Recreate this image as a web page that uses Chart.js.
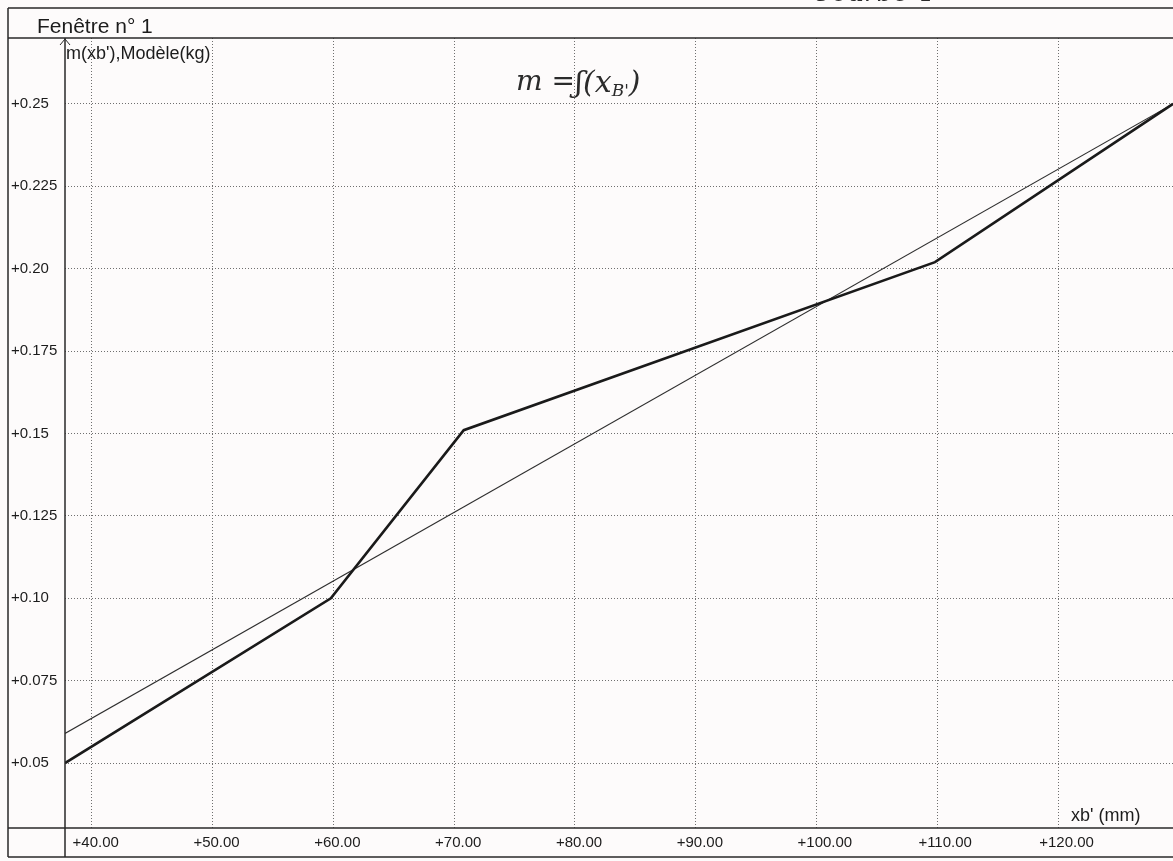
<!DOCTYPE html>
<html lang="fr">
<head>
<meta charset="utf-8">
<title>Fenêtre n° 1</title>
<script src="https://cdn.jsdelivr.net/npm/chart.js@4.4.1/dist/chart.umd.min.js"></script>
<style>
  html, body { margin: 0; padding: 0; background: #fdfbfb; overflow: hidden; }
  canvas { display: block; }
</style>
</head>
<body>
<canvas id="graphe" width="1173" height="861"></canvas>
<script>
// mesures m = f(xb') et modèle linéaire
const xbMesures = [37.8, 59.8, 70.8, 109.8, 129.5];
const mMesures = [0.050, 0.100, 0.151, 0.202, 0.250];
const xbModele = [37.8, 129.5];
const mModele = [0.059, 0.250];

const xTicks = [40, 50, 60, 70, 80, 90, 100, 110, 120];
const xTickLabels = ['+40.00', '+50.00', '+60.00', '+70.00', '+80.00', '+90.00', '+100.00', '+110.00', '+120.00'];
const yTicks = [0.05, 0.075, 0.10, 0.125, 0.15, 0.175, 0.20, 0.225, 0.25];
const yTickLabels = ['+0.05', '+0.075', '+0.10', '+0.125', '+0.15', '+0.175', '+0.20', '+0.225', '+0.25'];

const FONT = "'Liberation Sans', Arial, sans-serif";
const INK = '#1c1c1c';

function points(xs, ys) {
    return xs.map((x, i) => ({ x: x, y: ys[i] }));
}

// cadre de la fenêtre, axes, titres et annotation manuscrite
const cadre = {
    id: 'cadre',
    afterDraw(chart) {
        const ctx = chart.ctx;
        const area = chart.chartArea;
        const W = chart.width;
        const left = 8, top = 8, bottom = 857;
        ctx.save();
        ctx.strokeStyle = '#2a2a2a';
        ctx.lineWidth = 1.5;
        ctx.beginPath();
        ctx.moveTo(left, top); ctx.lineTo(W, top);
        ctx.moveTo(left, area.top); ctx.lineTo(W, area.top);
        ctx.moveTo(left, area.bottom); ctx.lineTo(W, area.bottom);
        ctx.moveTo(left, bottom); ctx.lineTo(W, bottom);
        ctx.moveTo(left, top); ctx.lineTo(left, bottom);
        ctx.moveTo(area.left, area.top); ctx.lineTo(area.left, bottom);
        ctx.stroke();

        // flèche de l'axe vertical
        ctx.lineWidth = 1;
        ctx.beginPath();
        ctx.moveTo(area.left - 5, area.top + 7);
        ctx.lineTo(area.left, area.top + 1);
        ctx.lineTo(area.left + 5, area.top + 7);
        ctx.stroke();

        ctx.fillStyle = INK;
        ctx.textBaseline = 'alphabetic';
        ctx.textAlign = 'left';
        ctx.font = '21px ' + FONT;
        ctx.fillText('Fenêtre n° 1', 37, 33);
        ctx.font = '18px ' + FONT;
        ctx.fillText("m(xb'),Modèle(kg)", area.left + 1, 59);
        ctx.fillText("xb' (mm)", 1071, 821);

        // annotation au stylo
        ctx.fillStyle = '#2b2b2b';
        let x = 516;
        const base = 90;
        const morceau = (txt, font, dy) => {
            ctx.font = font;
            ctx.fillText(txt, x, base + dy);
            x += ctx.measureText(txt).width;
        };
        morceau('m =', "italic 28px 'DejaVu Serif', serif", 0);
        morceau('ʃ(x', "italic 30px 'DejaVu Serif', serif", 2);
        morceau("B'", "italic 17px 'DejaVu Serif', serif", 6);
        morceau(')', "italic 30px 'DejaVu Serif', serif", 2);
        ctx.font = "italic 26px 'DejaVu Serif', serif";
        ctx.fillText('Courbe 4', 812, 1);
        ctx.restore();
    }
};

const grille = { color: '#6f6f6f', lineWidth: 1, drawTicks: false };
const bordure = { display: false, dash: [1, 2] };

new Chart(document.getElementById('graphe'), {
    type: 'scatter',
    data: {
        datasets: [
            {
                label: "m(xb')",
                data: points(xbMesures, mMesures),
                showLine: true,
                borderColor: '#1a1a1a',
                borderWidth: 2.6,
                pointRadius: 0,
                tension: 0
            },
            {
                label: 'Modèle',
                data: points(xbModele, mModele),
                showLine: true,
                borderColor: '#2e2e2e',
                borderWidth: 1.1,
                pointRadius: 0,
                tension: 0
            }
        ]
    },
    options: {
        responsive: false,
        devicePixelRatio: 1,
        animation: false,
        events: [],
        layout: { padding: { left: 11, top: 38, right: 0, bottom: 4 } },
        plugins: {
            legend: { display: false },
            tooltip: { enabled: false }
        },
        scales: {
            x: {
                type: 'linear',
                min: 37.8,
                max: 129.5,
                afterBuildTicks: s => { s.ticks = xTicks.map(v => ({ value: v })); },
                afterFit: s => { s.height = 29; },
                border: bordure,
                grid: grille,
                ticks: {
                    autoSkip: false,
                    maxRotation: 0,
                    align: 'start',
                    labelOffset: -19,
                    padding: 6,
                    color: INK,
                    font: { family: FONT, size: 15 },
                    callback: (v) => xTickLabels[xTicks.indexOf(v)]
                }
            },
            y: {
                type: 'linear',
                min: 0.0303,
                max: 0.270,
                afterBuildTicks: s => { s.ticks = yTicks.map(v => ({ value: v })); },
                afterFit: s => { s.width = 54; },
                border: bordure,
                grid: grille,
                ticks: {
                    autoSkip: false,
                    crossAlign: 'far',
                    color: INK,
                    font: { family: FONT, size: 15 },
                    callback: (v) => yTickLabels[yTicks.indexOf(v)]
                }
            }
        }
    },
    plugins: [cadre]
});
</script>
</body>
</html>
